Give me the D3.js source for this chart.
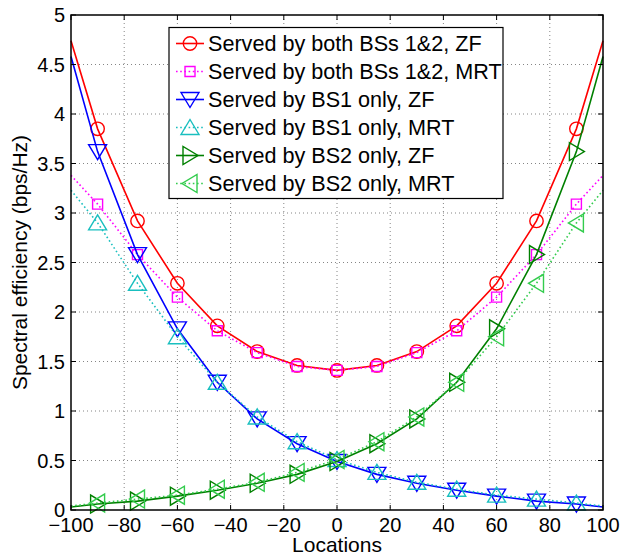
<!DOCTYPE html>
<html><head><meta charset="utf-8">
<script src="https://cdn.jsdelivr.net/npm/d3@7"></script>
<style>body{margin:0;background:#fff}svg{display:block}text{font-family:"Liberation Sans",Arial,Helvetica,sans-serif;fill:#000}</style>
</head><body><div id="chart"></div>
<script>
const locations = [-100,-90,-75,-60,-45,-30,-15,0,15,30,45,60,75,90,100];
const bothZF   = [4.74,3.85,2.92,2.29,1.86,1.60,1.46,1.41,1.46,1.60,1.86,2.29,2.92,3.85,4.74];
const bothMRT  = [3.38,3.09,2.58,2.15,1.81,1.59,1.45,1.41,1.45,1.59,1.81,2.15,2.58,3.09,3.38];
const bs1ZF    = [4.58,3.62,2.58,1.83,1.29,0.92,0.67,0.49,0.36,0.27,0.20,0.14,0.09,0.06,0.03];
const bs1MRT   = [3.23,2.90,2.29,1.75,1.29,0.94,0.69,0.51,0.38,0.28,0.21,0.15,0.11,0.07,0.04];
const bs2ZF    = [0.03,0.06,0.09,0.14,0.20,0.27,0.36,0.49,0.67,0.92,1.29,1.83,2.58,3.62,4.58];
const bs2MRT   = [0.04,0.07,0.11,0.15,0.21,0.28,0.38,0.51,0.69,0.94,1.29,1.75,2.29,2.90,3.23];
const seriesNames = ["Served by both BSs 1&2, ZF","Served by both BSs 1&2, MRT","Served by BS1 only, ZF","Served by BS1 only, MRT","Served by BS2 only, ZF","Served by BS2 only, MRT"];
const xTicks = [-100,-80,-60,-40,-20,0,20,40,60,80,100];
const yTicks = [0,0.5,1,1.5,2,2.5,3,3.5,4,4.5,5];
const xLabel = "Locations";
const yLabel = "Spectral efficiency (bps/Hz)";

const series = [
  {name:seriesNames[0], values:bothZF,  color:"#ff0000", dotted:false, marker:"circle"},
  {name:seriesNames[1], values:bothMRT, color:"#ff00ff", dotted:true,  marker:"square"},
  {name:seriesNames[2], values:bs1ZF,   color:"#0000ff", dotted:false, marker:"down"},
  {name:seriesNames[3], values:bs1MRT,  color:"#19bfbf", dotted:true,  marker:"up"},
  {name:seriesNames[4], values:bs2ZF,   color:"#008000", dotted:false, marker:"right"},
  {name:seriesNames[5], values:bs2MRT,  color:"#33cc4d", dotted:true,  marker:"left"}
];

const W=622,H=559, L=71,R=603,T=15,B=510;
const svg=d3.select("#chart").append("svg").attr("width",W).attr("height",H);
const x=d3.scaleLinear().domain([-100,100]).range([L,R]);
const y=d3.scaleLinear().domain([0,5]).range([B,T]);

// grid
const g=svg.append("g");
g.selectAll(".gx").data(xTicks.slice(1,-1)).enter().append("line")
  .attr("x1",d=>x(d)).attr("x2",d=>x(d)).attr("y1",T).attr("y2",B)
  .attr("stroke","#666").attr("stroke-width",0.8).attr("stroke-dasharray","1,3");
g.selectAll(".gy").data(yTicks.slice(1,-1)).enter().append("line")
  .attr("y1",d=>y(d)).attr("y2",d=>y(d)).attr("x1",L).attr("x2",R)
  .attr("stroke","#666").attr("stroke-width",0.8).attr("stroke-dasharray","1,3");

function markerPath(type){
  switch(type){
    case "circle": return d3.arc()({innerRadius:0,outerRadius:6.7,startAngle:0,endAngle:2*Math.PI});
    case "square": return "M-5,-5L5,-5L5,5L-5,5Z";
    case "down": return "M-9,-7L9,-7L0,8Z";
    case "up": return "M-9,7L9,7L0,-8Z";
    case "right": return "M-7,-9L-7,9L8,0Z";
    case "left": return "M7,-9L7,9L-8,0Z";
  }
}

const line=d3.line().x(d=>x(d[0])).y(d=>y(d[1]));
series.forEach(s=>{
  const pts=locations.map((l,i)=>[l,s.values[i]]);
  svg.append("path").attr("d",line(pts)).attr("fill","none").attr("stroke",s.color)
    .attr("stroke-width",1.6).attr("stroke-dasharray",s.dotted?"1.6,2.6":null);
  svg.selectAll(null).data(pts.slice(1,-1)).enter().append("path")
    .attr("d",markerPath(s.marker)).attr("transform",d=>`translate(${x(d[0])},${y(d[1])})`)
    .attr("fill","none").attr("stroke",s.color).attr("stroke-width",1.4);
});

// axes box and ticks
const ax=svg.append("g");
ax.append("rect").attr("x",L).attr("y",T).attr("width",R-L).attr("height",B-T)
  .attr("fill","none").attr("stroke","#000").attr("stroke-width",1.5);
const tl=5;
xTicks.forEach(t=>{
  ax.append("line").attr("x1",x(t)).attr("x2",x(t)).attr("y1",B).attr("y2",B-tl).attr("stroke","#000");
  ax.append("line").attr("x1",x(t)).attr("x2",x(t)).attr("y1",T).attr("y2",T+tl).attr("stroke","#000");
});
yTicks.forEach(t=>{
  ax.append("line").attr("y1",y(t)).attr("y2",y(t)).attr("x1",L).attr("x2",L+tl).attr("stroke","#000");
  ax.append("line").attr("y1",y(t)).attr("y2",y(t)).attr("x1",R).attr("x2",R-tl).attr("stroke","#000");
});
const fmtX=d3.format("d");
ax.selectAll(".xl").data(xTicks).enter().append("text")
  .attr("x",d=>x(d)).attr("y",531.5).attr("text-anchor","middle").attr("font-size",20)
  .text(d=>fmtX(d));
ax.selectAll(".yl").data(yTicks).enter().append("text")
  .attr("x",L-6).attr("y",d=>y(d)+7).attr("text-anchor","end").attr("font-size",20)
  .text(d=>String(d));
svg.append("text").attr("x",(L+R)/2).attr("y",552).attr("text-anchor","middle").attr("font-size",21).text(xLabel);
svg.append("text").attr("transform",`translate(27,${(T+B)/2}) rotate(-90)`).attr("text-anchor","middle").attr("font-size",21).text(yLabel);

// legend
const lg=svg.append("g");
lg.append("rect").attr("x",169).attr("y",27.5).attr("width",334).attr("height",171)
  .attr("fill","#fff").attr("stroke","#000").attr("stroke-width",1.2);
series.forEach((s,i)=>{
  const cy=43.5+i*28;
  lg.append("line").attr("x1",176).attr("x2",204).attr("y1",cy).attr("y2",cy)
    .attr("stroke",s.color).attr("stroke-width",1.6).attr("stroke-dasharray",s.dotted?"1.6,2.6":null);
  lg.append("path").attr("d",markerPath(s.marker)).attr("transform",`translate(190,${cy})`)
    .attr("fill","none").attr("stroke",s.color).attr("stroke-width",1.4);
  lg.append("text").attr("x",208).attr("y",cy+7.5).attr("font-size",21.6).text(s.name);
});
</script></body></html>
